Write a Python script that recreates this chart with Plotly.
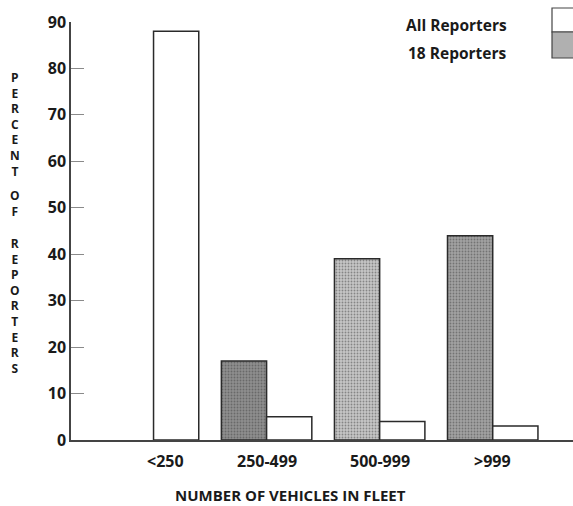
import plotly.graph_objects as go

categories = ["<250", "250-499", "500-999", ">999"]
reporters_18 = [0, 17, 39, 44]
all_reporters = [88, 5, 4, 3]
grey_shades = ["#9a9a9a", "#8e8e8e", "#c6c6c6", "#a2a2a2"]
y_ticks = [0, 10, 20, 30, 40, 50, 60, 70, 80, 90]

W, H = 573, 506
L, R, T, B = 71, 0, 22, 66
PW, PH = W - L - R, H - T - B

def px(x):
    return (x - L) / PW

def py(y):
    return (H - B - y) / PH

FONT = "Open Sans"
TXT = "#1a1a1a"
DARK = "#2a2a2a"

fig = go.Figure()
fig.add_trace(go.Bar(
    x=categories, y=reporters_18, name="18 Reporters",
    marker=dict(
        color=grey_shades,
        line=dict(color=DARK, width=[0, 1.5, 1.5, 1.5]),
        pattern=dict(shape=".", size=3, solidity=0.3, fgcolor="#5a5a5a",
                     bgcolor=grey_shades, fillmode="overlay"),
    ),
))
fig.add_trace(go.Bar(
    x=categories, y=all_reporters, name="All Reporters",
    marker=dict(color="white", line=dict(color=DARK, width=1.5)),
))

fig.update_layout(
    width=W, height=H,
    margin=dict(l=L, r=R, t=T, b=B, autoexpand=False),
    plot_bgcolor="white", paper_bgcolor="white",
    barmode="group", bargap=0.2, bargroupgap=0,
    showlegend=False,
    font=dict(family=FONT, color=TXT),
)
fig.update_xaxes(
    range=[-0.73, 3.71], showline=True, linecolor="#444444", linewidth=1.5,
    showgrid=False, ticks="", zeroline=False, showticklabels=False,
)
fig.update_yaxes(
    range=[0, 90], tickvals=y_ticks, showline=True, linecolor="#444444",
    linewidth=1.5, showgrid=False, zeroline=False,
    ticks="inside", ticklen=13, tickcolor="#8a8a8a", tickwidth=1,
    tickfont=dict(family=FONT, size=16, color=TXT, weight="bold"),
    ticklabelstandoff=0,
)

# category labels (first label sits a little right of its bar pair)
label_shift = [12, 0, 0, 0]
for cat, sh in zip(categories, label_shift):
    fig.add_annotation(
        text=cat, x=cat, xref="x", yref="paper", y=py(461),
        xshift=sh, showarrow=False, yanchor="middle",
        font=dict(family=FONT, size=16, color=TXT, weight="bold"),
    )

# x axis title
fig.add_annotation(
    text="NUMBER OF VEHICLES IN FLEET", xref="paper", yref="paper",
    x=px(290), y=py(495), showarrow=False, yanchor="middle",
    font=dict(family=FONT, size=15, color=TXT, weight="bold"),
)

# stacked y-axis title, one word per block of stacked letters
words = [("PERCENT", 124), ("OF", 203), ("REPORTERS", 306)]
for w, yc in words:
    fig.add_annotation(
        text="<br>".join(list(w)), xref="paper", yref="paper",
        x=px(15), y=py(yc), showarrow=False, align="center",
        font=dict(family=FONT, size=12, color=TXT, weight="bold"),
        yanchor="middle", xanchor="center",
    )

# custom legend
fig.add_annotation(text="All Reporters", xref="paper", yref="paper",
                   x=px(509), y=py(25), xanchor="right", yanchor="middle",
                   showarrow=False,
                   font=dict(family=FONT, size=15.5, color=TXT, weight="bold"))
fig.add_annotation(text="18 Reporters", xref="paper", yref="paper",
                   x=px(509), y=py(53), xanchor="right", yanchor="middle",
                   showarrow=False,
                   font=dict(family=FONT, size=15.5, color=TXT, weight="bold"))
fig.add_shape(type="rect", xref="paper", yref="paper",
              x0=px(552), x1=px(574), y0=py(32), y1=py(8),
              fillcolor="white", line=dict(color="#444444", width=1.2))
fig.add_shape(type="rect", xref="paper", yref="paper",
              x0=px(552), x1=px(574), y0=py(58), y1=py(32),
              fillcolor="#b0b0b0", line=dict(color="#444444", width=1.2))

fig.write_html("out.html",
               config={"displayModeBar": False},
               post_script="document.body.style.margin='0';document.body.style.overflow='hidden';")
